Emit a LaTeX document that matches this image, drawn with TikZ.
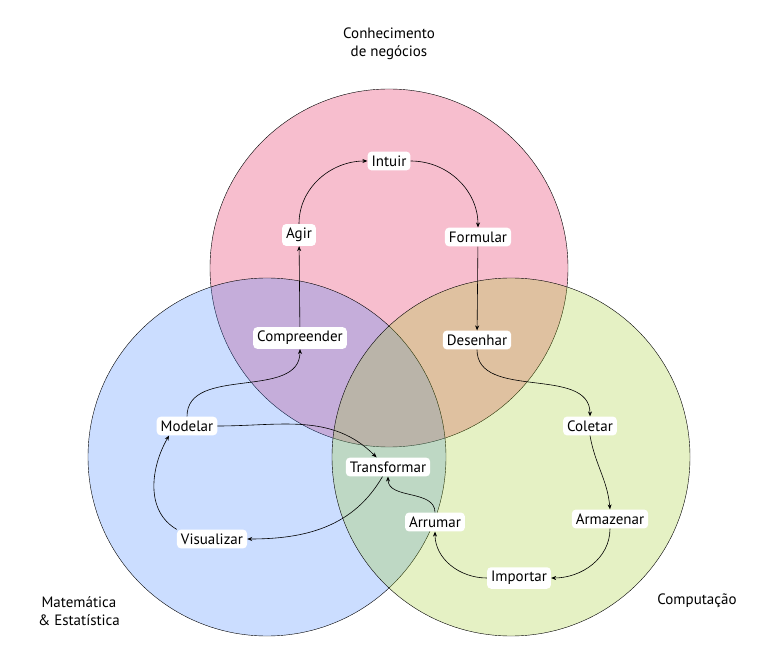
\documentclass[tikz,border=0pt]{standalone}
\usepackage{fontspec}
\setmainfont{PT Sans}
\usepackage{tikz}
\usetikzlibrary{arrows.meta}

\definecolor{negpink}{RGB}{247,190,206}
\definecolor{matblue}{RGB}{51,123,255}
\definecolor{compgreen}{RGB}{155,203,23}

\begin{document}
\begin{tikzpicture}[x=1pt,y=-1pt]
      \tikzset{step box/.style={fill=white,
          rounded corners=4pt,
          inner sep=4pt,
          font=\fontsize{15}{18}\selectfont},
        label text/.style={align=center,font=\fontsize{15}{18}\selectfont},
        area/.style={draw=black,fill=#1,fill opacity=0.25},
        flow/.style={-{Stealth[length=5pt,width=4pt]},semithick}
      }
      \useasboundingbox (0,0) rectangle (777,660);
      \fill[white] (0,0) rectangle (777,660);

      % circles
      \draw [fill=negpink] (389,268) circle (179);
      \draw [area=matblue] (267,457) circle (179);
      \draw [area=compgreen] (511,457) circle (179);

      \node [label text] (neg) at (389,44) {Conhecimento\\de negócios};
      \node [label text] (mat) at (79,611) {Matemática\\\& Estatística};
      \node [label text] (comp) at (697,601) {Computação};

      \node [step box] (Intuir) at (389,161) {Intuir};
      \node [step box] (Agir) at (299,235) {Agir};
      \node [step box] (Formular) at (478,237) {Formular};
      \node [step box] (Compreender) at (300,338) {Compreender};
      \node [step box] (Desenhar) at (477,340) {Desenhar};
      \node [step box] (Modelar) at (187,426) {Modelar};
      \node [step box] (Coletar) at (590,426) {Coletar};
      \node [step box] (Transformar) at (388,467) {Transformar};
      \node [step box] (Arrumar) at (435,522) {Arrumar};
      \node [step box] (Armazenar) at (610,519) {Armazenar};
      \node [step box] (Visualizar) at (212,539) {Visualizar};
      \node [step box] (Importar) at (519,578) {Importar};

      \draw [flow] (Agir.north) to [out=90,in=180] (Intuir.west);
      \draw [flow] (Intuir.east) to [out=0,in=90] (Formular.north);
      \draw [flow] (Formular) -- (Desenhar);
      \draw [flow] (Desenhar.south) to [out=-90,in=90] (Coletar.north);
      \draw [flow] (Coletar.south) to [out=-80,in=95] (Armazenar.north);
      \draw [flow] (Armazenar.south) to [out=-90,in=0] (Importar.east);
      \draw [flow] (Importar.west) to [out=180,in=-90] (Arrumar.south);
      \draw [flow] (Arrumar.north) to [out=90,in=-90] (Transformar.south);
      \draw [flow] (Transformar.-120) to [out=-120,in=0] (Visualizar.east);
      \draw [flow] (Visualizar.north west) to [out=150,in=-120] (Modelar.-152);
      \draw [flow] (Modelar.east) to [out=0,in=135] (Transformar.140);
      \draw [flow] (Modelar.north) to [out=90,in=-90] (Compreender.south);
      \draw [flow] (Compreender) -- (Agir);
    \end{tikzpicture}
\end{document}
